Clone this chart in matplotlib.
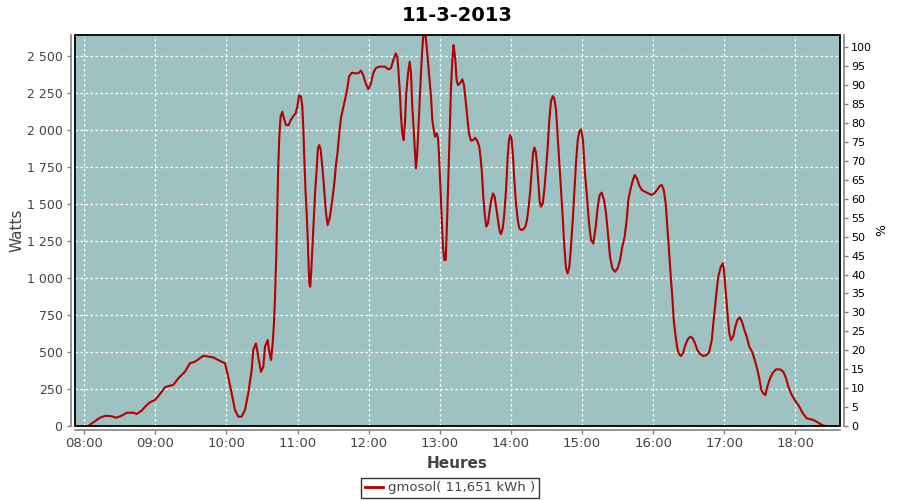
import numpy as np
import pandas as pd
import matplotlib
matplotlib.use("Agg")
import matplotlib.pyplot as plt
import matplotlib.dates as mdates
from matplotlib.ticker import FuncFormatter, MultipleLocator
from matplotlib.patches import Rectangle

# minutes after 08:00 and power in watts
minutes = [3.4, 13.2, 17.5, 21.7, 27.3, 31.6, 35.8, 41.4, 44.2, 48.4,
           52.7, 55.4, 59.7, 63.9, 68.1, 72.3, 75.1, 79.3, 85.0, 89.2,
           93.4, 97.6, 100.4, 108.9, 114.5, 118.8, 121.5, 124.4, 127.2, 130.0,
           132.8, 135.6, 138.4, 141.3, 142.6, 144.9, 146.8, 149.1, 151.1, 152.5,
           154.8, 156.1, 157.6, 159.0, 160.1, 160.9, 162.0, 162.9, 163.7, 164.6,
           165.7, 167.1, 168.5, 170.2, 172.5, 174.2, 176.4, 178.4, 179.8, 181.2,
           182.9, 184.0, 184.8, 185.7, 186.8, 187.7, 188.5, 189.4, 189.9, 190.7,
           191.6, 192.7, 193.8, 194.9, 196.1, 197.2, 198.3, 199.5, 200.6, 202.3,
           204.0, 205.4, 207.3, 209.3, 211.0, 212.4, 213.8, 215.2, 216.6, 218.1,
           220.0, 222.0, 223.4, 225.7, 228.4, 231.2, 233.5, 235.4, 237.5, 239.7,
           241.9, 243.9, 245.9, 248.7, 253.8, 256.5, 258.8, 260.8, 262.8, 264.1,
           265.0, 266.2, 267.3, 268.4, 269.5, 270.6, 271.7, 273.2, 274.6, 275.7,
           276.8, 278.0, 279.1, 279.9, 280.8, 281.9, 283.1, 284.1, 285.2, 286.1,
           288.1, 289.2, 290.9, 292.6, 293.7, 294.9, 296.0, 297.4, 298.5, 299.3,
           300.4, 301.6, 302.7, 303.8, 305.0, 306.1, 307.2, 308.4, 309.5, 310.6,
           311.6, 312.2, 313.1, 314.2, 315.3, 317.0, 319.0, 320.4, 321.8, 323.2,
           324.6, 326.3, 328.3, 329.9, 331.6, 333.3, 334.5, 335.6, 336.7, 337.9,
           339.2, 340.7, 342.1, 343.5, 344.9, 346.3, 347.7, 349.1, 350.6, 351.6,
           353.1, 354.4, 355.9, 357.3, 358.4, 359.5, 360.7, 361.8, 362.9, 364.3,
           365.8, 367.1, 368.8, 370.5, 372.2, 373.6, 375.0, 376.4, 377.6, 378.7,
           379.8, 381.0, 382.0, 383.2, 384.3, 385.4, 386.9, 388.2, 389.6, 391.1,
           392.4, 393.8, 395.3, 396.6, 398.1, 399.5, 400.8, 402.3, 403.7, 405.1,
           406.5, 407.9, 409.3, 410.7, 412.2, 413.5, 414.9, 416.4, 417.7, 419.2,
           420.8, 422.5, 424.2, 425.9, 427.6, 429.5, 431.6, 433.3, 434.9, 436.6,
           438.6, 440.3, 441.9, 443.6, 445.6, 447.9, 450.1, 452.1, 454.0, 456.0,
           457.7, 459.1, 460.8, 462.5, 464.5, 466.4, 468.1, 470.4, 473.2, 476.0,
           478.8, 481.0, 483.3, 485.6, 487.3, 489.0, 490.6, 492.0, 493.4, 494.9,
           496.2, 497.4, 498.7, 500.2, 501.6, 503.3, 505.2, 507.2, 509.2, 511.4,
           513.4, 515.4, 517.3, 519.6, 522.4, 525.2, 527.4, 529.5, 530.8, 532.3,
           533.7, 535.0, 537.1, 538.8, 539.8, 540.9, 542.1, 543.2, 544.3, 545.8,
           547.7, 549.4, 551.1, 553.1, 555.0, 557.0, 559.0, 561.2, 563.5, 565.8,
           568.0, 569.6, 571.3, 573.0, 574.7, 576.4, 578.7, 581.0, 583.7, 587.1,
           589.9, 592.2, 594.1, 597.0, 600.4, 603.4, 606.3, 609.6, 615.2, 619.5,
           622.3, 625.1]
watts = [0, 56, 68, 68, 56, 70, 90, 90, 81, 104,
         142, 160, 176, 216, 262, 273, 277, 322, 367, 424,
         435, 458, 475, 464, 440, 424, 333, 221, 108, 63,
         63, 108, 221, 379, 514, 559, 469, 367, 401, 536,
         581, 502, 446, 559, 694, 852, 1145, 1461, 1753, 1956,
         2092, 2125, 2081, 2035, 2035, 2069, 2096, 2114, 2159, 2236,
         2227, 2159, 2024, 1810, 1574, 1438, 1280, 1077, 965, 942,
         1055, 1235, 1415, 1596, 1731, 1878, 1900, 1866, 1776, 1618,
         1438, 1359, 1415, 1528, 1641, 1765, 1855, 1979, 2081, 2137,
         2204, 2283, 2362, 2389, 2385, 2385, 2403, 2373, 2317, 2277,
         2317, 2385, 2419, 2430, 2430, 2412, 2419, 2475, 2520, 2497,
         2419, 2272, 2092, 1979, 1934, 2047, 2250, 2385, 2463, 2385,
         2159, 2002, 1844, 1743, 1821, 2002, 2204, 2385, 2543, 2644,
         2633, 2543, 2385, 2227, 2069, 2002, 1956, 1979, 1945, 1844,
         1641, 1415, 1212, 1122, 1122, 1371, 1663, 2002, 2294, 2475,
         2576, 2543, 2475, 2340, 2306, 2317, 2344, 2306, 2204, 2092,
         1979, 1929, 1934, 1949, 1929, 1889, 1810, 1709, 1551, 1438,
         1348, 1371, 1461, 1528, 1573, 1551, 1472, 1393, 1314, 1298,
         1337, 1427, 1596, 1821, 1934, 1968, 1934, 1821, 1663, 1506,
         1393, 1337, 1325, 1330, 1348, 1393, 1483, 1596, 1731, 1844,
         1884, 1855, 1776, 1641, 1517, 1483, 1506, 1596, 1731, 1889,
         2069, 2193, 2231, 2216, 2137, 1956, 1776, 1596, 1415, 1212,
         1066, 1032, 1077, 1212, 1393, 1573, 1776, 1934, 1990, 2006,
         1934, 1709, 1551, 1371, 1258, 1235, 1348, 1483, 1562, 1578,
         1528, 1438, 1303, 1145, 1066, 1043, 1066, 1122, 1212, 1280,
         1393, 1528, 1596, 1652, 1697, 1675, 1630, 1596, 1584, 1573,
         1562, 1573, 1596, 1623, 1630, 1596, 1506, 1348, 1190, 1010,
         874, 717, 627, 536, 492, 473, 492, 548, 586, 604,
         593, 559, 514, 487, 473, 480, 502, 581, 694, 807,
         920, 1010, 1077, 1100, 1055, 942, 830, 717, 627, 581,
         609, 672, 717, 735, 705, 649, 604, 536, 502, 446,
         379, 322, 243, 221, 210, 266, 322, 360, 383, 383,
         367, 322, 266, 210, 164, 131, 86, 52, 41, 22,
         7, 0]

day = pd.Timestamp("2013-03-11 08:00")
times = day + pd.to_timedelta(minutes, unit="m")

title = "11-3-2013"
legend_label = "gmosol( 11,651 kWh )"

bg = "#9ec2c2"
red = "#b40000"
grey = "#808080"
txt = "#444444"

fig = plt.figure(figsize=(9, 5), dpi=100)
ax = fig.add_axes([75 / 900, 74 / 500, 765 / 900, 391 / 500])
ax.set_facecolor(bg)

ax.plot(times, watts, color=red, linewidth=1.5, zorder=3)

ax.set_xlim(day - pd.Timedelta(minutes=7.8), day + pd.Timedelta(minutes=637.7))
ax.set_ylim(0, 2644)

ax.xaxis.set_major_locator(mdates.HourLocator())
ax.xaxis.set_major_formatter(mdates.DateFormatter("%H:%M"))
ax.yaxis.set_major_locator(MultipleLocator(250))
ax.yaxis.set_major_formatter(FuncFormatter(lambda v, p: f"{int(v):,}".replace(",", " ")))

ax.grid(True, color="white", linestyle=(0, (2, 2)), linewidth=0.9)

# offset grey axis lines, black frame around the plot area
for s in ["top", "right"]:
    ax.spines[s].set_visible(False)
for s in ["left", "bottom"]:
    ax.spines[s].set_position(("outward", 3))
    ax.spines[s].set_color(grey)
    ax.spines[s].set_linewidth(1.2)
ax.add_patch(Rectangle((0, 0), 1, 1, transform=ax.transAxes, fill=False,
                       edgecolor="black", linewidth=1.3, zorder=5, clip_on=False))

ax.tick_params(axis="both", colors=grey, length=3, width=1, labelsize=9,
               labelcolor=txt)
ax.tick_params(axis="y", pad=3)
ax.tick_params(axis="x", pad=2, labelsize=9.5)

ax.set_xlabel("Heures", fontsize=11, color=txt, fontweight="semibold", labelpad=4)
ax.set_ylabel("Watts", fontsize=11, color=txt, fontweight="medium")
ax.yaxis.set_label_coords(-0.066, 0.5)
ax.set_title(title, fontsize=14, fontweight="bold", pad=10)

# right axis in percent
ax2 = ax.twinx()
ax2.set_ylim(0, 2644 / 2500 * 100 * (369.7 / 378.7))
ax2.set_yticks(np.arange(0, 101, 5))
for s in ["top", "left", "bottom"]:
    ax2.spines[s].set_visible(False)
ax2.spines["right"].set_position(("outward", 3))
ax2.spines["right"].set_color(grey)
ax2.spines["right"].set_linewidth(1.2)
ax2.tick_params(axis="y", colors=grey, length=3, width=1, labelsize=8,
                labelcolor="black", pad=2)
ax2.set_ylabel("%", fontsize=9, labelpad=2)

leg_handle = plt.Line2D([], [], color=red, linewidth=2)
fig.legend([leg_handle], [legend_label], loc="center", bbox_to_anchor=(450 / 900, 1 - 488 / 500),
           frameon=True, fancybox=False, edgecolor="black", fontsize=9.5,
           handlelength=1.4, handletextpad=0.4, borderpad=0.3, borderaxespad=0)
fig.legends[0].get_frame().set_linewidth(1)
fig.legends[0].get_texts()[0].set_color(txt)

fig.savefig("out.png", dpi=100)
